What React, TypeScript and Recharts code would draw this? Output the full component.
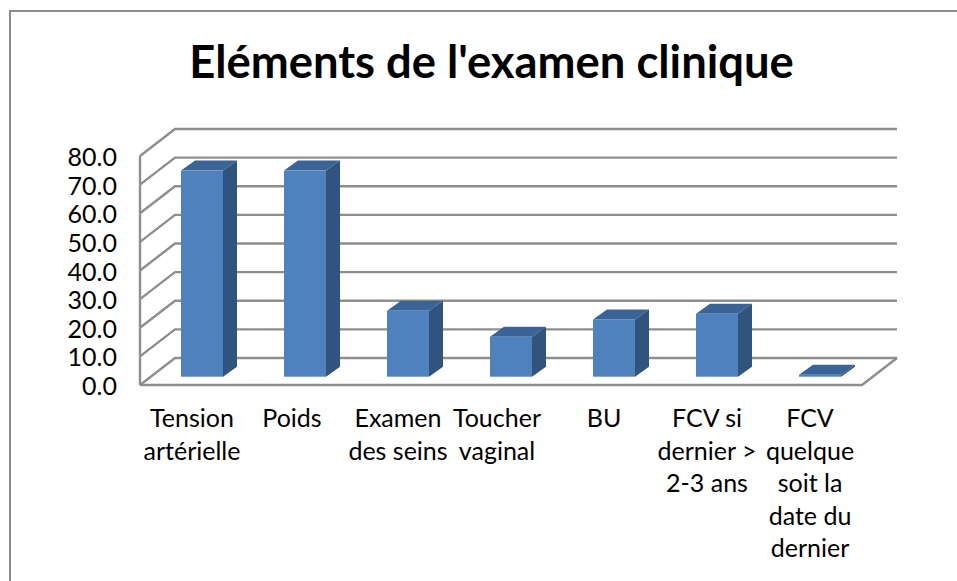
import { Bar, BarChart, CartesianGrid, XAxis, YAxis } from "recharts";

const categories = [
  "Tension\nartérielle",
  "Poids",
  "Examen\ndes seins",
  "Toucher\nvaginal",
  "BU",
  "FCV si\ndernier >\n2-3 ans",
  "FCV\nquelque\nsoit la\ndate du\ndernier",
];
const values = [72, 72, 23, 14, 20, 22, 0.7];
const yTicks = [0, 10, 20, 30, 40, 50, 60, 70, 80];

const chartData = categories.map((name, i) => ({ name, value: values[i] }));

const FONT = "Lato, sans-serif";
const GRID = "#8e8e8e";
const PLOT_BOTTOM = 376.7;
const STEP = 28.625; // px per 10 units

// bars stand in a plane between the front edge and the back wall
const FRONT = { dx: -10.5, dy: 8.3 };
const BACK = { dx: 24.5, dy: -18.7 };
const BACK_RIGHT = 25.5;

function gridLine(props: any) {
  const { x1, x2, y1, index } = props;
  const fy = y1 + FRONT.dy;
  const by = y1 + BACK.dy;
  const fx = x1 + FRONT.dx;
  const bx = x1 + BACK.dx;
  const isFloor = Math.abs(y1 - PLOT_BOTTOM) < 1;
  return (
    <g key={index} fill="none" stroke={GRID} strokeWidth={2.4}>
      <polyline points={`${fx},${fy} ${bx},${by} ${x2 + BACK_RIGHT},${by}`} />
      {!isFloor && <line x1={fx} y1={fy} x2={fx} y2={fy + STEP} />}
      {isFloor && (
        <polyline points={`${fx},${fy} ${x2 - 9.5},${fy} ${x2 + BACK_RIGHT},${by}`} />
      )}
    </g>
  );
}

function Bar3D(props: any) {
  const { x, y, width, height } = props;
  const d = 14;
  const h = 10;
  return (
    <g>
      <polygon
        points={`${x},${y} ${x + d},${y - h} ${x + width + d},${y - h} ${x + width},${y}`}
        fill="#3A6396"
      />
      <polygon
        points={`${x + width},${y} ${x + width + d},${y - h} ${x + width + d},${y + height - h} ${x + width},${y + height}`}
        fill="#31547E"
      />
      <rect x={x} y={y} width={width} height={height} fill="#4F81BD" />
    </g>
  );
}

function YTick(props: any) {
  const { y, payload } = props;
  return (
    <text x={117} y={y + FRONT.dy + 10} textAnchor="end" fontSize={25} fontFamily={FONT} fill="#000">
      {payload.value.toFixed(1)}
    </text>
  );
}

function XTick(props: any) {
  const { x, payload, index } = props;
  const lines = String(payload.value).split("\n");
  // the labels are not quite centred under their bars
  const shift = index === 1 ? -13 : index === 3 ? -14 : -10;
  return (
    <text textAnchor="middle" fontSize={25} fontFamily={FONT} fill="#000">
      {lines.map((line, i) => (
        <tspan key={i} x={x + shift} y={427 + i * 32.5}>
          {line}
        </tspan>
      ))}
    </text>
  );
}

export default function App() {
  return (
    <div style={{ position: "absolute", left: 0, top: 0, width: 957, height: 581, overflow: "hidden", background: "#fff" }}>
      <div style={{ position: "absolute", left: 9, top: 10, width: 960, height: 600, borderLeft: "2px solid #8c8c8c", borderTop: "2px solid #8c8c8c" }} />
      <div
        style={{
          position: "absolute",
          left: 0,
          width: 983,
          top: 33,
          textAlign: "center",
          fontFamily: FONT,
          fontWeight: 700,
          fontSize: 45.4,
          lineHeight: "56px",
          color: "#000",
        }}
      >
        Eléments de l'examen clinique
      </div>
      <div style={{ position: "absolute", left: 0, top: 0 }}>
        <BarChart
          width={957}
          height={581}
          data={chartData}
          margin={{ top: 147.7, right: 85.5, bottom: 581 - PLOT_BOTTOM - 40, left: 90.5 }}
          barCategoryGap={30.5}
        >
          <CartesianGrid vertical={false} horizontal={gridLine} />
          <XAxis dataKey="name" axisLine={false} tickLine={false} tick={<XTick />} height={40} interval={0} />
          <YAxis domain={[0, 80]} ticks={yTicks} width={60} axisLine={false} tickLine={false} tick={<YTick />} />
          <Bar dataKey="value" shape={<Bar3D />} isAnimationActive={false} />
        </BarChart>
      </div>
    </div>
  );
}
